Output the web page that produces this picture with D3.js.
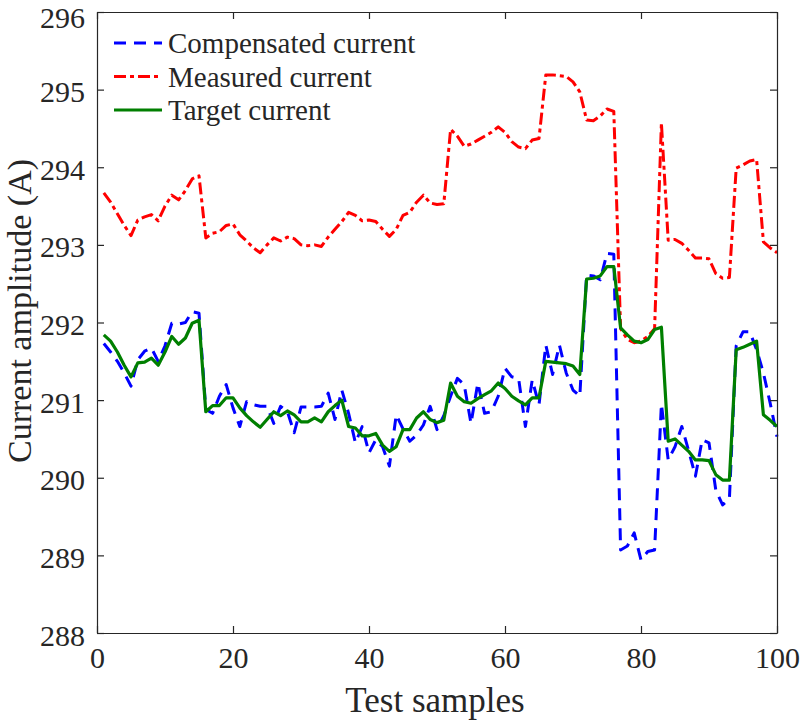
<!DOCTYPE html>
<html>
<head>
<meta charset="utf-8">
<script src="https://cdn.jsdelivr.net/npm/d3@7"></script>
<style>
  body { margin: 0; background: #fff; }
  text { font-family: "Liberation Serif", "Times New Roman", serif; fill: #262626; }
</style>
</head>
<body>
<script>
// General constants
const WIDTH = 800;
const HEIGHT = 721;
const margin = {top: 12, right: 23, bottom: 88, left: 97};

// Chart data (samples 1..100)
const samples = d3.range(1, 101);

const compensated = [
    291.73, 291.62, 291.50, 291.35, 291.18, 291.52, 291.63, 291.67, 291.50, 291.70,
    291.99, 291.98, 292.00, 292.14, 292.12, 290.88, 290.83, 291.05, 291.20, 290.90,
    290.66, 290.98, 290.94, 290.92, 290.92, 290.70, 290.92, 290.85, 290.58, 290.91,
    290.91, 290.91, 290.92, 291.09, 290.75, 291.13, 290.83, 290.45, 290.66, 290.32,
    290.49, 290.40, 290.15, 290.81, 290.63, 290.47, 290.55, 290.68, 290.92, 290.62,
    290.80, 291.05, 291.28, 291.20, 290.70, 291.22, 290.83, 290.85, 291.05, 291.41,
    291.30, 291.28, 290.66, 291.26, 290.94, 291.71, 291.33, 291.71, 291.35, 291.13,
    291.05, 292.61, 292.60, 292.55, 292.89, 292.88, 289.07, 289.12, 289.29, 288.94,
    289.05, 289.07, 290.95, 290.23, 290.40, 290.66, 290.35, 290.02, 290.49, 290.45,
    289.84, 289.65, 289.73, 291.70, 291.88, 291.88, 291.65, 291.35, 290.96, 290.53
];

const measured = [
    293.67, 293.55, 293.40, 293.25, 293.12, 293.32, 293.36, 293.39, 293.31, 293.50,
    293.64, 293.58, 293.70, 293.85, 293.89, 293.09, 293.15, 293.17, 293.25, 293.27,
    293.13, 293.05, 292.96, 292.90, 293.00, 293.09, 293.05, 293.10, 293.08, 293.00,
    292.99, 293.00, 292.98, 293.10, 293.20, 293.30, 293.42, 293.38, 293.31, 293.32,
    293.30, 293.20, 293.11, 293.20, 293.38, 293.42, 293.55, 293.64, 293.54, 293.52,
    293.53, 294.49, 294.40, 294.27, 294.30, 294.35, 294.40, 294.45, 294.52, 294.45,
    294.33, 294.26, 294.24, 294.35, 294.37, 295.19, 295.19, 295.18, 295.17, 295.10,
    294.97, 294.61, 294.60, 294.66, 294.75, 294.72, 291.92, 291.78, 291.74, 291.76,
    291.82, 291.92, 294.57, 293.06, 293.07, 293.02, 292.93, 292.83, 292.83, 292.82,
    292.63, 292.57, 292.58, 293.99, 294.03, 294.08, 294.10, 293.04, 292.96, 292.90
];

const target = [
    291.84, 291.76, 291.62, 291.45, 291.30, 291.48, 291.49, 291.54, 291.45, 291.62,
    291.82, 291.72, 291.80, 291.99, 292.03, 290.85, 290.93, 290.93, 291.03, 291.03,
    290.90, 290.80, 290.72, 290.65, 290.75, 290.85, 290.80, 290.86, 290.81, 290.72,
    290.72, 290.77, 290.72, 290.85, 290.93, 291.00, 290.66, 290.64, 290.54, 290.54,
    290.57, 290.42, 290.34, 290.40, 290.62, 290.62, 290.77, 290.85, 290.75, 290.71,
    290.74, 291.22, 291.05, 290.98, 290.96, 291.02, 291.07, 291.12, 291.22, 291.15,
    291.05, 290.99, 290.94, 291.03, 291.03, 291.50, 291.49, 291.48, 291.47, 291.44,
    291.33, 292.56, 292.57, 292.60, 292.72, 292.72, 291.93, 291.84, 291.76, 291.74,
    291.78, 291.91, 291.94, 290.47, 290.50, 290.42, 290.34, 290.23, 290.23, 290.22,
    290.04, 289.97, 289.97, 291.65, 291.68, 291.72, 291.76, 290.81, 290.74, 290.66
];

const xTicks = [0, 20, 40, 60, 80, 100];
const yTicks = [288, 289, 290, 291, 292, 293, 294, 295, 296];
const seriesNames = ["Compensated current", "Measured current", "Target current"];
const seriesColors = ["#0000ff", "#ff0000", "#007f00"];
const seriesDash = ["12,8", "12,4,4,4", null];

/**
 * Set up the svg and the scales
 */
const svg = d3.select("body")
              .append("svg")
              .attr("width", WIDTH)
              .attr("height", HEIGHT);

const innerW = WIDTH - margin.left - margin.right;
const innerH = HEIGHT - margin.top - margin.bottom;

var x = d3.scaleLinear()
          .domain([0, 100])
          .range([margin.left, margin.left + innerW]);

var y = d3.scaleLinear()
          .domain([288, 296])
          .range([margin.top + innerH, margin.top]);

/** Lines, drawn in legend order so the target sits on top */
const line = d3.line()
               .x(function(d) { return x(d[0]); })
               .y(function(d) { return y(d[1]); });

[compensated, measured, target].forEach(function(vals, k) {
    svg.append("path")
       .datum(samples.map(function(s, i) { return [s, vals[i]]; }))
       .attr("d", line)
       .attr("fill", "none")
       .attr("stroke", seriesColors[k])
       .attr("stroke-width", k == 2 ? 3.2 : 3)
       .attr("stroke-linejoin", "round")
       .attr("stroke-dasharray", seriesDash[k]);
});

/** Axes (MATLAB style: ticks inside, box on) */
const axisColor = "#262626";
const tickLen = 7;

var xAxis = svg.append("g")
   .attr("transform", `translate(0,${y(288)})`)
   .call(d3.axisBottom(x).tickValues(xTicks).tickSizeInner(-tickLen).tickSizeOuter(0).tickPadding(14));

var yAxis = svg.append("g")
   .attr("transform", `translate(${x(0)},0)`)
   .call(d3.axisLeft(y).tickValues(yTicks).tickSizeInner(-tickLen).tickSizeOuter(0).tickPadding(12));

svg.append("g")
   .attr("transform", `translate(0,${y(296)})`)
   .call(d3.axisTop(x).tickValues(xTicks).tickSizeInner(-tickLen).tickSizeOuter(0).tickFormat(""));

svg.append("g")
   .attr("transform", `translate(${x(100)},0)`)
   .call(d3.axisRight(y).tickValues(yTicks).tickSizeInner(-tickLen).tickSizeOuter(0).tickFormat(""));

svg.selectAll(".domain, .tick line").attr("stroke", axisColor).attr("stroke-width", 1.2);
svg.selectAll(".tick text")
   .attr("font-size", 30)
   .attr("font-family", "Liberation Serif")
   .attr("fill", axisColor);

/** y labels sit a little below their ticks, keep the top one inside the page */
yAxis.selectAll(".tick text").attr("dy", "0.4em");
yAxis.selectAll(".tick text").filter(function(d) { return d == 296; }).attr("dy", "0.5em");

/** Axis titles */
svg.append("text")
   .attr("x", 435)
   .attr("y", 712)
   .attr("text-anchor", "middle")
   .attr("font-size", 35)
   .text("Test samples");

svg.append("text")
   .attr("transform", "translate(31,311) rotate(-90)")
   .attr("text-anchor", "middle")
   .attr("font-size", 34)
   .text("Current amplitude (A)");

/** Legend, no box */
var legend = svg.append("g");
seriesNames.forEach(function(name, k) {
    let ly = 43 + k * 33.5;
    legend.append("line")
          .attr("x1", 114).attr("x2", 162)
          .attr("y1", ly).attr("y2", ly)
          .attr("stroke", seriesColors[k])
          .attr("stroke-width", 3)
          .attr("stroke-dasharray", seriesDash[k]);
    legend.append("text")
          .attr("x", 168)
          .attr("y", ly + 10)
          .attr("font-size", 29)
          .text(name);
});
</script>
</body>
</html>
